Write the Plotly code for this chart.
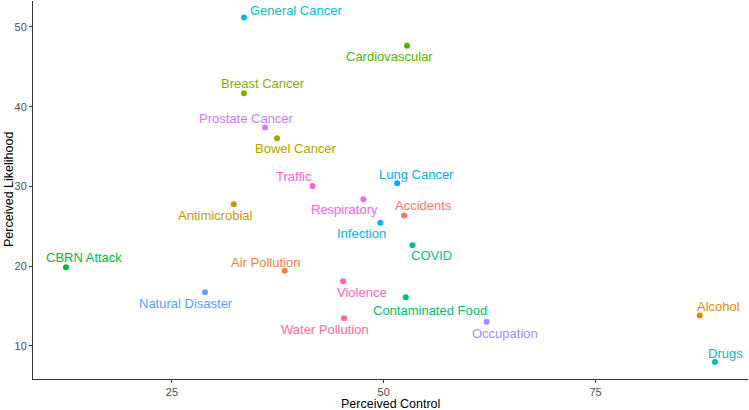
import math
import plotly.graph_objects as go

risks = ["General Cancer", "Cardiovascular", "Breast Cancer", "Prostate Cancer", "Bowel Cancer",
         "Traffic", "Lung Cancer", "Respiratory", "Antimicrobial", "Accidents", "Infection",
         "COVID", "CBRN Attack", "Air Pollution", "Violence", "Natural Disaster",
         "Contaminated Food", "Water Pollution", "Occupation", "Alcohol", "Drugs"]
perceived_control = [33.5, 52.75, 33.5, 36.0, 37.4, 41.6, 51.6, 47.6, 32.3, 52.4, 49.6,
                     53.4, 12.5, 38.3, 45.2, 28.9, 52.6, 45.3, 62.15, 87.3, 89.1]
perceived_likelihood = [51.2, 47.65, 41.7, 37.4, 36.05, 30.05, 30.4, 28.4, 27.75, 26.35, 25.45,
                        22.6, 19.85, 19.4, 18.1, 16.7, 16.1, 13.45, 13.0, 13.8, 7.95]

# label offsets (pixels) mimicking the repelled text placement
label_dx = [52, -18, 19, -19, 19, -19, 19, -19, -18.5, 19, -19, 18.7, 18.4, -19, 18.5,
            -19, 24, -19, 18.6, 19, 11]
label_dy = [7, -10.5, 9.7, 9.4, -10.7, 9.3, 9, -10, -10.7, 9.6, -10.6, -10.4, 9.6, 8.7,
            -11, -11, -13.3, -11, -11.3, 9.3, 8.6]

FONT = "Liberation Sans, Arial, sans-serif"


def hcl_hex(h, c=100.0, l=65.0):
    hr = math.radians(h)
    u = c * math.cos(hr)
    v = c * math.sin(hr)
    Xn, Yn, Zn = 95.047, 100.0, 108.883
    Y = Yn * ((l + 16) / 116) ** 3
    den = Xn + 15 * Yn + 3 * Zn
    un = 4 * Xn / den
    vn = 9 * Yn / den
    up = u / (13 * l) + un
    vp = v / (13 * l) + vn
    X = Y * 9 * up / (4 * vp)
    Z = Y * (12 - 3 * up - 20 * vp) / (4 * vp)
    X, Y, Z = X / 100, Y / 100, Z / 100
    rgb = [3.240479 * X - 1.537150 * Y - 0.498535 * Z,
           -0.969256 * X + 1.875992 * Y + 0.041556 * Z,
           0.055648 * X - 0.204043 * Y + 1.057311 * Z]
    out = []
    for ch in rgb:
        ch = 12.92 * ch if ch <= 0.0031308 else 1.055 * ch ** (1 / 2.4) - 0.055
        ch = min(max(ch, 0.0), 1.0)
        out.append(int(round(ch * 255)))
    return "#%02X%02X%02X" % tuple(out)


order = sorted(risks, key=lambda s: s.lower())
n = len(order)
palette = {name: hcl_hex(15 + i * 360.0 / n) for i, name in enumerate(order)}
colors = [palette[r] for r in risks]

fig = go.Figure()
fig.add_trace(go.Scatter(
    x=perceived_control, y=perceived_likelihood, mode="markers",
    marker=dict(color=colors, size=6),
    hoverinfo="skip", showlegend=False, cliponaxis=False))

for i, r in enumerate(risks):
    fig.add_annotation(x=perceived_control[i], y=perceived_likelihood[i], text=r,
                       showarrow=False, xshift=label_dx[i], yshift=label_dy[i],
                       xanchor="center", yanchor="middle",
                       font=dict(color=colors[i], size=13, family=FONT))

# axis titles
fig.add_annotation(xref="paper", yref="paper", x=0.5, y=0, yshift=-24.5, text="Perceived Control",
                   showarrow=False, xanchor="center", yanchor="middle", borderpad=0,
                   font=dict(size=12.5, color="black", family=FONT))
fig.add_annotation(xref="paper", yref="paper", x=0, y=0.5, xshift=-24, text="Perceived Likelihood",
                   showarrow=False, xanchor="center", yanchor="middle", textangle=-90, borderpad=0,
                   font=dict(size=12.5, color="black", family=FONT))

axis_common = dict(showgrid=False, zeroline=False, showline=True, linecolor="#333333", linewidth=1,
                   ticks="outside", ticklen=3, tickcolor="#333333", automargin=False,
                   tickfont=dict(size=11, color="#4D4D4D", family=FONT))

fig.update_layout(
    width=749, height=410,
    margin=dict(l=33, r=1, t=1, b=31),
    plot_bgcolor="white", paper_bgcolor="white",
    font=dict(family=FONT, color="black"),
    xaxis=dict(range=[8.6, 93.0], tickvals=[25, 50, 75], **axis_common),
    yaxis=dict(range=[5.83, 53.26], tickvals=[10, 20, 30, 40, 50], **axis_common),
)

fig.write_html("out.html", config={"displayModeBar": False},
               post_script="document.body.style.margin='0';document.body.style.overflow='hidden';")
